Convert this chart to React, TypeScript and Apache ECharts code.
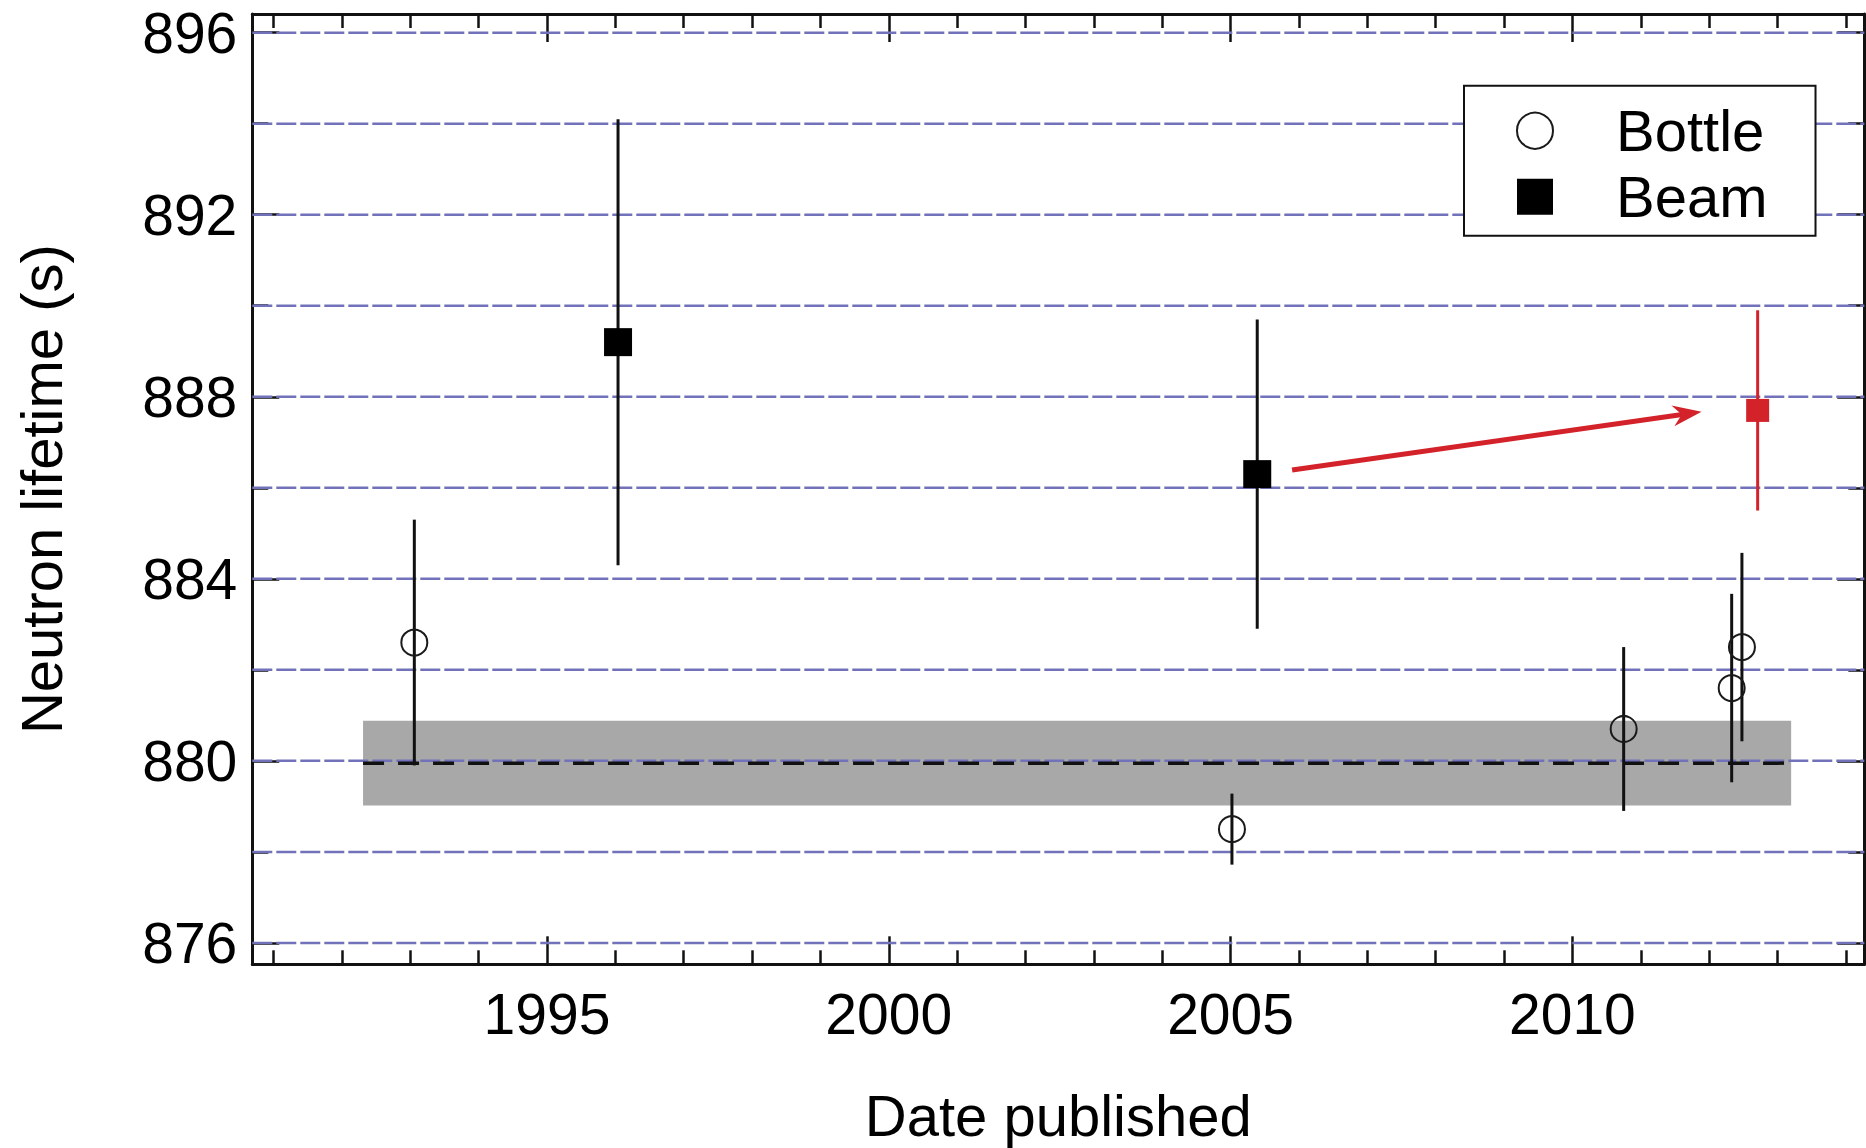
import React, { useEffect, useRef } from "react";
import * as echarts from "echarts";

// ---- axis ranges & ticks ----
const xMin = 1990.69;
const xMax = 2014.27;
const yMin = 875.53;
const yMax = 896.41;

const xMajorTicks = [1995, 2000, 2005, 2010];
const xMinorTicks = [1991, 1992, 1993, 1994, 1996, 1997, 1998, 1999, 2001, 2002, 2003, 2004, 2006, 2007, 2008, 2009, 2011, 2012, 2013, 2014];
const yMajorTicks = [876, 880, 884, 888, 892, 896];
const yMinorTicks = [878, 882, 886, 890, 894];
const gridLineValues = [876, 878, 880, 882, 884, 886, 888, 890, 892, 894, 896];

// ---- data ----
const bottleYears = [1993.06, 2005.02, 2010.75, 2012.33, 2012.48];
const bottleValues = [882.6, 878.5, 880.7, 881.6, 882.5];
const bottleErrors = [2.7, 0.78, 1.8, 2.07, 2.07];

const beamYears = [1996.04, 2005.39];
const beamValues = [889.2, 886.3];
const beamErrors = [4.9, 3.4];

const newBeamYears = [2012.71];
const newBeamValues = [887.7];
const newBeamErrors = [2.2];

const bandStart = 1992.31;
const bandEnd = 2013.2;
const bandMean = 879.95;
const bandHalfWidth = 0.93;

// arrow from the 2005 beam result to the corrected value (tail, tip)
const arrowFrom = [2005.9, 886.39];
const arrowTo = [2011.89, 887.67];

// ---- styles ----
const FONT = "'Liberation Sans', Arial, Helvetica, sans-serif";
const BLACK = "#111111";
const RED = "#d3222a";
const GRID_BLUE = "#7272bb";
const BAND_GREY = "#a8a8a8";

function errorBarSeries(name: string, years: number[], values: number[], errors: number[], color: string, width: number) {
  return {
    type: "custom",
    name,
    xAxisIndex: 0,
    yAxisIndex: 0,
    silent: true,
    z: 4,
    data: years.map((x, i) => [x, values[i] - errors[i], values[i] + errors[i]]),
    encode: { x: 0, y: [1, 2] },
    renderItem: (_p: any, api: any) => {
      const lo = api.coord([api.value(0), api.value(1)]);
      const hi = api.coord([api.value(0), api.value(2)]);
      return {
        type: "line",
        shape: { x1: lo[0], y1: lo[1], x2: hi[0], y2: hi[1] },
        style: { stroke: color, lineWidth: width },
      };
    },
  };
}

function xAxisDef(position: "top" | "bottom", ticks: number[], len: number, main: boolean, labels: boolean) {
  return {
    type: "value",
    position,
    min: xMin,
    max: xMax,
    axisLine: { show: main, onZero: false, lineStyle: { color: BLACK, width: 3 } },
    axisTick: { show: true, inside: true, length: len, customValues: ticks, lineStyle: { color: BLACK, width: 2.5 } },
    axisLabel: labels
      ? { show: true, customValues: ticks, margin: 21, fontSize: 57, color: "#000", fontFamily: FONT, formatter: (v: number) => String(v) }
      : { show: false },
    splitLine: { show: false },
    ...(labels
      ? {
          name: "Date published",
          nameLocation: "middle",
          nameGap: 122,
          nameMoveOverlap: false,
          nameTextStyle: { fontSize: 58, color: "#000", fontFamily: FONT },
        }
      : {}),
  };
}

function yAxisDef(position: "left" | "right", ticks: number[], len: number, main: boolean, labels: boolean) {
  return {
    type: "value",
    position,
    min: yMin,
    max: yMax,
    axisLine: { show: main, onZero: false, lineStyle: { color: BLACK, width: 3 } },
    axisTick: { show: true, inside: true, length: len, customValues: ticks, lineStyle: { color: BLACK, width: 2.5 } },
    axisLabel: labels
      ? { show: true, customValues: ticks, margin: 15, fontSize: 57, color: "#000", fontFamily: FONT, formatter: (v: number) => String(v) }
      : { show: false },
    splitLine: { show: false },
    ...(labels
      ? {
          name: "Neutron lifetime (s)",
          nameLocation: "middle",
          nameGap: 182,
          nameMoveOverlap: false,
          nameTextStyle: { fontSize: 58, color: "#000", fontFamily: FONT },
        }
      : {}),
  };
}

const option: any = {
  animation: false,
  backgroundColor: "#ffffff",
  textStyle: { fontFamily: FONT },
  grid: {
    left: 252.3,
    right: 1.7,
    top: 14,
    bottom: 183.7,
    containLabel: false,
    outerBoundsMode: "none",
    show: false,
  },
  legend: {
    show: true,
    orient: "vertical",
    left: 1464,
    top: 85.7,
    data: [
      { name: "Bottle", icon: "circle" },
      { name: "Beam", icon: "rect" },
    ],
    itemWidth: 36,
    itemHeight: 36,
    itemGap: 0,
    padding: [12, 48, 6, 52],
    backgroundColor: "#ffffff",
    borderColor: BLACK,
    borderWidth: 2,
    borderRadius: 0,
    selectedMode: false,
    z: 10,
    textStyle: { fontSize: 58, color: "#000", fontFamily: FONT, lineHeight: 66, padding: [0, 0, 0, 58] },
  },
  xAxis: [
    xAxisDef("bottom", xMajorTicks, 28, true, true),
    xAxisDef("bottom", xMinorTicks, 14, false, false),
    xAxisDef("top", xMajorTicks, 28, true, false),
    xAxisDef("top", xMinorTicks, 14, false, false),
  ],
  yAxis: [
    yAxisDef("left", yMajorTicks, 27, true, true),
    yAxisDef("left", yMinorTicks, 16, false, false),
    yAxisDef("right", yMajorTicks, 27, true, false),
    yAxisDef("right", yMinorTicks, 16, false, false),
  ],
  series: [
    {
      type: "custom",
      name: "Average band",
      xAxisIndex: 0,
      yAxisIndex: 0,
      silent: true,
      z: 1,
      data: [[bandStart, bandEnd, bandMean - bandHalfWidth, bandMean + bandHalfWidth]],
      encode: { x: [0, 1], y: [2, 3] },
      renderItem: (_p: any, api: any) => {
        const a = api.coord([api.value(0), api.value(3)]);
        const b = api.coord([api.value(1), api.value(2)]);
        return {
          type: "rect",
          shape: { x: a[0], y: a[1], width: b[0] - a[0], height: b[1] - a[1] },
          style: { fill: BAND_GREY },
        };
      },
    },
    {
      type: "custom",
      name: "Grid lines",
      xAxisIndex: 0,
      yAxisIndex: 0,
      silent: true,
      z: 2,
      data: gridLineValues.map((v) => [xMin, v, xMax]),
      encode: { x: [0, 2], y: 1 },
      renderItem: (_p: any, api: any) => {
        const a = api.coord([api.value(0), api.value(1)]);
        const b = api.coord([api.value(2), api.value(1)]);
        return {
          type: "line",
          shape: { x1: a[0], y1: a[1], x2: b[0], y2: b[1] },
          style: { stroke: GRID_BLUE, lineWidth: 2.5, lineDash: [20, 4] },
        };
      },
    },
    {
      type: "line",
      name: "Average",
      xAxisIndex: 0,
      yAxisIndex: 0,
      silent: true,
      z: 3,
      showSymbol: false,
      symbol: "none",
      data: [
        [bandStart, bandMean],
        [bandEnd, bandMean],
      ],
      lineStyle: { color: BLACK, width: 3.5, type: [21, 14] },
    },
    errorBarSeries("Bottle error", bottleYears, bottleValues, bottleErrors, BLACK, 3),
    errorBarSeries("Beam error", beamYears, beamValues, beamErrors, BLACK, 3),
    errorBarSeries("New beam error", newBeamYears, newBeamValues, newBeamErrors, RED, 3),
    {
      type: "scatter",
      name: "Bottle",
      xAxisIndex: 0,
      yAxisIndex: 0,
      silent: true,
      z: 5,
      symbol: "circle",
      symbolSize: 26,
      data: bottleYears.map((x, i) => [x, bottleValues[i]]),
      itemStyle: { color: "rgba(255,255,255,0)", borderColor: "#1a1a1a", borderWidth: 2, opacity: 1 },
    },
    {
      type: "scatter",
      name: "Beam",
      xAxisIndex: 0,
      yAxisIndex: 0,
      silent: true,
      z: 5,
      symbol: "rect",
      symbolSize: 28,
      data: beamYears.map((x, i) => [x, beamValues[i]]),
      itemStyle: { color: "#000000", opacity: 1 },
    },
    {
      type: "scatter",
      name: "New beam",
      xAxisIndex: 0,
      yAxisIndex: 0,
      silent: true,
      z: 5,
      symbol: "rect",
      symbolSize: 23,
      data: newBeamYears.map((x, i) => [x, newBeamValues[i]]),
      itemStyle: { color: RED, opacity: 1 },
    },
    {
      type: "custom",
      name: "Shift",
      xAxisIndex: 0,
      yAxisIndex: 0,
      silent: true,
      z: 6,
      data: [[arrowFrom[0], arrowFrom[1], arrowTo[0], arrowTo[1]]],
      encode: { x: [0, 2], y: [1, 3] },
      renderItem: (_p: any, api: any) => {
        const a = api.coord([api.value(0), api.value(1)]);
        const b = api.coord([api.value(2), api.value(3)]);
        const dx = b[0] - a[0];
        const dy = b[1] - a[1];
        const len = Math.sqrt(dx * dx + dy * dy);
        const ux = dx / len;
        const uy = dy / len;
        const px = -uy;
        const py = ux;
        const headLen = 29;
        const headHalf = 10.5;
        const notch = 20;
        const back = [b[0] - ux * headLen, b[1] - uy * headLen];
        const notchPt = [b[0] - ux * notch, b[1] - uy * notch];
        return {
          type: "group",
          children: [
            {
              type: "line",
              shape: { x1: a[0], y1: a[1], x2: notchPt[0] + ux * 4, y2: notchPt[1] + uy * 4 },
              style: { stroke: RED, lineWidth: 5 },
            },
            {
              type: "polygon",
              shape: {
                points: [
                  [b[0], b[1]],
                  [back[0] + px * headHalf, back[1] + py * headHalf],
                  notchPt,
                  [back[0] - px * headHalf, back[1] - py * headHalf],
                ],
              },
              style: { fill: RED },
            },
          ],
        };
      },
    },
  ],
};

export default function App() {
  const ref = useRef<HTMLDivElement>(null);
  useEffect(() => {
    if (!ref.current) return;
    const chart = echarts.init(ref.current, null, { renderer: "svg" });
    chart.setOption(option);
    return () => chart.dispose();
  }, []);
  return (
    <div
      ref={ref}
      style={{ position: "absolute", left: 0, top: 0, width: 1866, height: 1148, background: "#fff" }}
    />
  );
}
